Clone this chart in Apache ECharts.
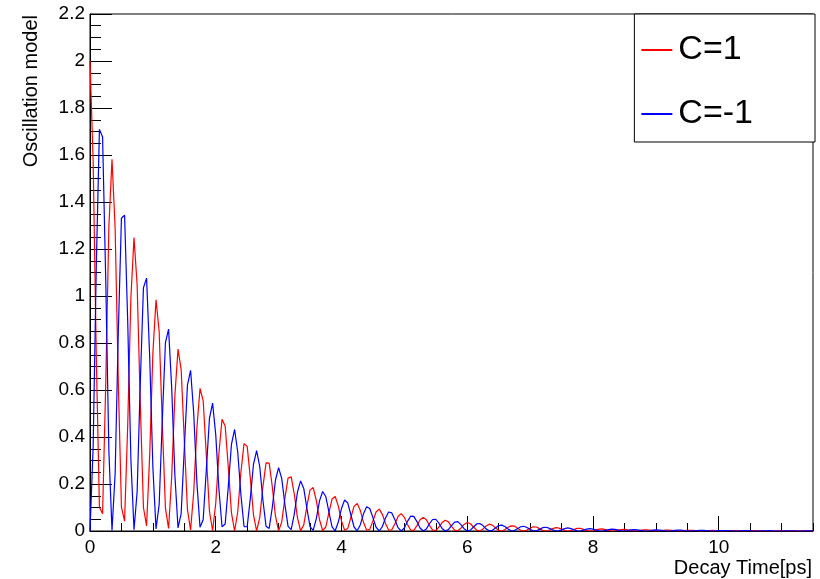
<!DOCTYPE html>
<html>
<head>
<meta charset="utf-8">
<script src="https://cdn.jsdelivr.net/npm/echarts@6/dist/echarts.min.js"></script>
<style>
  html, body { margin: 0; padding: 0; background: #fff; }
</style>
</head>
<body>
<div id="main" style="width: 820px;height:579px;"></div>
<script type="text/javascript">
    // sampling of the curves: one point every 0.05 ps from 0 to 11.5
    var step = 0.05;
    var names = ['C=1', 'C=-1'];
    var xTicks = [0, 2, 4, 6, 8, 10];

    // C=1 (red), values
    var redValues = [
        2.000, 1.577, 0.744, 0.101, 0.073, 0.621, 1.294, 1.582, 1.286, 0.636,
        0.102, 0.042, 0.451, 0.990, 1.249, 1.046, 0.541, 0.100, 0.022, 0.325,
        0.756, 0.984, 0.849, 0.458, 0.096, 0.011, 0.233, 0.575, 0.774, 0.687,
        0.386, 0.091, 0.004, 0.166, 0.437, 0.607, 0.555, 0.324, 0.084, 0.001,
        0.117, 0.330, 0.475, 0.447, 0.271, 0.077, 0.000, 0.082, 0.249, 0.372,
        0.360, 0.226, 0.070, 0.000, 0.057, 0.187, 0.290, 0.289, 0.188, 0.063,
        0.001, 0.039, 0.140, 0.225, 0.231, 0.156, 0.056, 0.001, 0.026, 0.105,
        0.175, 0.185, 0.129, 0.049, 0.002, 0.017, 0.078, 0.136, 0.147, 0.106,
        0.043, 0.003, 0.011, 0.058, 0.105, 0.117, 0.087, 0.037, 0.003, 0.007,
        0.043, 0.081, 0.093, 0.071, 0.032, 0.004, 0.005, 0.031, 0.062, 0.074,
        0.058, 0.028, 0.004, 0.003, 0.023, 0.048, 0.058, 0.048, 0.024, 0.004,
        0.002, 0.017, 0.036, 0.046, 0.039, 0.020, 0.004, 0.001, 0.012, 0.028,
        0.036, 0.031, 0.017, 0.004, 0.000, 0.009, 0.021, 0.029, 0.025, 0.014,
        0.003, 0.000, 0.006, 0.016, 0.022, 0.021, 0.012, 0.003, 0.000, 0.004,
        0.012, 0.018, 0.017, 0.010, 0.003, 0.000, 0.003, 0.009, 0.014, 0.013,
        0.008, 0.003, 0.000, 0.002, 0.007, 0.011, 0.011, 0.007, 0.002, 0.000,
        0.001, 0.005, 0.008, 0.009, 0.006, 0.002, 0.000, 0.001, 0.004, 0.006,
        0.007, 0.005, 0.002, 0.000, 0.001, 0.003, 0.005, 0.005, 0.004, 0.002,
        0.000, 0.000, 0.002, 0.004, 0.004, 0.003, 0.001, 0.000, 0.000, 0.002,
        0.003, 0.003, 0.003, 0.001, 0.000, 0.000, 0.001, 0.002, 0.003, 0.002,
        0.001, 0.000, 0.000, 0.001, 0.002, 0.002, 0.002, 0.001, 0.000, 0.000,
        0.001, 0.001, 0.002, 0.001, 0.001, 0.000, 0.000, 0.000, 0.001, 0.001,
        0.001, 0.001, 0.000, 0.000, 0.000, 0.001, 0.001, 0.001, 0.001, 0.000,
        0.000
    ];

    // C=-1 (blue)
    var blueValues = [
        0.000, 0.357, 1.127, 1.709, 1.677, 1.072, 0.344, 0.002, 0.246, 0.846,
        1.331, 1.344, 0.890, 0.307, 0.005, 0.167, 0.633, 1.035, 1.076, 0.736,
        0.271, 0.009, 0.112, 0.472, 0.802, 0.859, 0.607, 0.238, 0.013, 0.074,
        0.350, 0.621, 0.684, 0.500, 0.207, 0.016, 0.048, 0.259, 0.479, 0.544,
        0.410, 0.180, 0.018, 0.030, 0.190, 0.369, 0.432, 0.335, 0.155, 0.019,
        0.018, 0.139, 0.283, 0.342, 0.274, 0.132, 0.020, 0.011, 0.101, 0.217,
        0.270, 0.223, 0.113, 0.020, 0.006, 0.073, 0.166, 0.213, 0.181, 0.096,
        0.019, 0.003, 0.053, 0.127, 0.168, 0.147, 0.081, 0.018, 0.001, 0.038,
        0.096, 0.132, 0.119, 0.068, 0.017, 0.001, 0.027, 0.073, 0.103, 0.096,
        0.057, 0.016, 0.000, 0.019, 0.055, 0.081, 0.077, 0.048, 0.014, 0.000,
        0.013, 0.041, 0.063, 0.062, 0.040, 0.013, 0.000, 0.009, 0.031, 0.049,
        0.050, 0.033, 0.011, 0.000, 0.006, 0.023, 0.038, 0.040, 0.027, 0.010,
        0.000, 0.004, 0.017, 0.030, 0.032, 0.023, 0.009, 0.001, 0.003, 0.013,
        0.023, 0.025, 0.019, 0.008, 0.001, 0.002, 0.010, 0.018, 0.020, 0.015,
        0.007, 0.001, 0.001, 0.007, 0.014, 0.016, 0.012, 0.006, 0.001, 0.001,
        0.005, 0.010, 0.013, 0.010, 0.005, 0.001, 0.000, 0.004, 0.008, 0.010,
        0.008, 0.004, 0.001, 0.000, 0.003, 0.006, 0.008, 0.007, 0.004, 0.001,
        0.000, 0.002, 0.005, 0.006, 0.005, 0.003, 0.001, 0.000, 0.001, 0.004,
        0.005, 0.004, 0.003, 0.001, 0.000, 0.001, 0.003, 0.004, 0.004, 0.002,
        0.001, 0.000, 0.001, 0.002, 0.003, 0.003, 0.002, 0.001, 0.000, 0.001,
        0.002, 0.002, 0.002, 0.002, 0.001, 0.000, 0.000, 0.001, 0.002, 0.002,
        0.001, 0.000, 0.000, 0.000, 0.001, 0.001, 0.002, 0.001, 0.000, 0.000,
        0.000, 0.001, 0.001, 0.001, 0.001, 0.000, 0.000, 0.000, 0.001, 0.001,
        0.001
    ];

    var font = "'Liberation Sans', Arial, Helvetica, sans-serif";

    function toPairs(values) {
        var res = [];
        for (var i = 0; i < values.length; i++) {
            res.push([Math.round(i * step * 100) / 100, values[i]]);
        }
        return res;
    }

    var myChart = echarts.init(document.getElementById('main'));

    var option = {
        backgroundColor: '#fff',
        animation: false,
        grid: {
            left: 90,
            right: 7,
            top: 14,
            bottom: 48,
            show: true,
            borderColor: '#000',
            borderWidth: 1
        },
        legend: {
            data: names,
            orient: 'vertical',
            right: 5,
            top: 14,
            padding: [19, 62, 11, 7],
            itemGap: 30,
            itemWidth: 31,
            itemHeight: 2,
            icon: 'rect',
            borderColor: '#000',
            borderWidth: 1,
            backgroundColor: '#fff',
            textStyle: {
                fontFamily: font,
                fontSize: 34,
                color: '#000',
                padding: [0, 0, 0, 1]
            }
        },
        xAxis: [{
            type: 'value',
            min: 0,
            max: 11.5,
            interval: 2,
            position: 'bottom',
            axisLine: { lineStyle: { color: '#000', width: 1 } },
            axisTick: { inside: true, length: 15, lineStyle: { color: '#000' } },
            axisLabel: {
                showMaxLabel: false,
                margin: 7,
                color: '#000',
                fontFamily: font,
                fontSize: 19,
                formatter: function (v) {
                    return xTicks.indexOf(v) >= 0 ? String(v) : '';
                }
            },
            splitLine: { show: false }
        }, {
            type: 'value',
            min: 0,
            max: 11.5,
            interval: 0.5,
            position: 'bottom',
            axisLine: { show: false },
            axisTick: { inside: true, length: 8, lineStyle: { color: '#000' } },
            axisLabel: { show: false },
            splitLine: { show: false }
        }],
        yAxis: {
            type: 'value',
            min: 0,
            max: 2.2,
            interval: 0.2,
            axisLine: { show: true, lineStyle: { color: '#000', width: 1 } },
            axisTick: { show: true, inside: true, length: 22, lineStyle: { color: '#000' } },
            minorTick: { show: true, splitNumber: 4, length: 11, lineStyle: { color: '#000' } },
            axisLabel: {
                margin: 5,
                color: '#000',
                fontFamily: font,
                fontSize: 19
            },
            splitLine: { show: false }
        },
        graphic: [{
            type: 'text',
            x: 31,
            y: 15,
            rotation: Math.PI / 2,
            style: {
                text: 'Oscillation model',
                fill: '#000',
                font: '20px ' + font,
                textAlign: 'right',
                textVerticalAlign: 'middle'
            }
        }, {
            type: 'text',
            x: 812,
            y: 568,
            style: {
                text: 'Decay Time[ps]',
                fill: '#000',
                font: '20px ' + font,
                textAlign: 'right',
                textVerticalAlign: 'middle'
            }
        }],
        series: [{
            name: names[0],
            type: 'line',
            xAxisIndex: 0,
            symbol: 'none',
            lineStyle: { color: '#ff0000', width: 1.2 },
            itemStyle: { color: '#ff0000' },
            data: toPairs(redValues)
        }, {
            name: names[1],
            type: 'line',
            xAxisIndex: 0,
            symbol: 'none',
            lineStyle: { color: '#0000ff', width: 1.2 },
            itemStyle: { color: '#0000ff' },
            data: toPairs(blueValues)
        }]
    };

    myChart.setOption(option);
</script>
</body>
</html>
